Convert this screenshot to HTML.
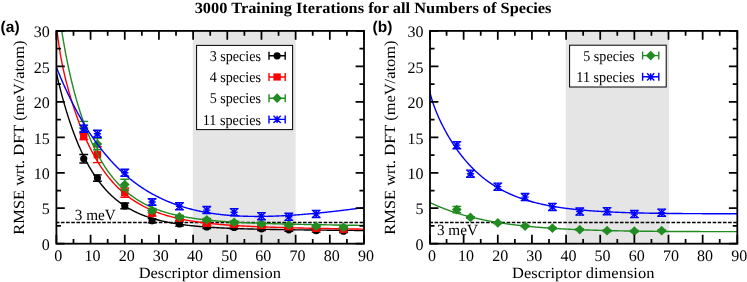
<!DOCTYPE html>
<html lang="en">
<head>
<meta charset="utf-8">
<title>3000 Training Iterations for all Numbers of Species</title>
<style>
html,body{margin:0;padding:0;background:#ffffff;}
body{width:747px;height:282px;overflow:hidden;}
svg{display:block;text-rendering:geometricPrecision;filter:opacity(1);}
</style>
</head>
<body>
<svg width="747" height="282" viewBox="0 0 747 282" role="img" aria-label="RMSE versus descriptor dimension">
<rect x="0" y="0" width="747" height="282" fill="#ffffff"/>
<rect x="192.81" y="30.90" width="102.83" height="212.80" fill="#e5e5e5"/>
<clipPath id="clip0"><rect x="56.40" y="30.90" width="307.60" height="212.80"/></clipPath>
<g clip-path="url(#clip0)">
<path d="M56.40,222.42 L364.00,222.42" stroke="#000" stroke-width="1.5" stroke-dasharray="3.6 1.55" stroke-dashoffset="0.6" fill="none"/>
<path d="M56.40,73.05 L57.25,76.73 L58.11,80.33 L58.96,83.84 L59.82,87.26 L60.67,90.61 L61.53,93.87 L62.38,97.06 L63.24,100.18 L64.09,103.21 L64.94,106.18 L65.80,109.08 L66.65,111.91 L67.51,114.67 L68.36,117.37 L69.22,120.00 L70.07,122.57 L70.93,125.08 L71.78,127.53 L72.63,129.93 L73.49,132.26 L74.34,134.55 L75.20,136.77 L76.05,138.95 L76.91,141.07 L77.76,143.15 L78.62,145.17 L79.47,147.15 L80.32,149.08 L81.18,150.96 L82.03,152.80 L82.89,154.60 L83.74,156.35 L84.60,158.07 L85.45,159.74 L86.31,161.37 L87.16,162.97 L88.01,164.52 L88.87,166.04 L89.72,167.53 L90.58,168.98 L91.43,170.39 L92.29,171.77 L93.14,173.12 L94.00,174.44 L94.85,175.73 L95.70,176.98 L96.56,178.21 L97.41,179.41 L98.27,180.58 L99.12,181.72 L99.98,182.83 L100.83,183.92 L101.69,184.98 L102.54,186.02 L103.39,187.04 L104.25,188.03 L105.10,188.99 L105.96,189.94 L106.81,190.86 L107.67,191.76 L108.52,192.64 L109.38,193.49 L110.23,194.33 L111.08,195.15 L111.94,195.95 L112.79,196.73 L113.65,197.49 L114.50,198.23 L115.36,198.96 L116.21,199.67 L117.07,200.36 L117.92,201.04 L118.77,201.70 L119.63,202.35 L120.48,202.98 L121.34,203.59 L122.19,204.19 L123.05,204.78 L123.90,205.35 L124.76,205.91 L125.61,206.46 L126.46,206.99 L127.32,207.51 L128.17,208.02 L129.03,208.52 L129.88,209.00 L130.74,209.48 L131.59,209.94 L132.45,210.39 L133.30,210.84 L134.15,211.27 L135.01,211.69 L135.86,212.10 L136.72,212.50 L137.57,212.90 L138.43,213.28 L139.28,213.65 L140.14,214.02 L140.99,214.38 L141.84,214.73 L142.70,215.07 L143.55,215.40 L144.41,215.72 L145.26,216.04 L146.12,216.35 L146.97,216.66 L147.83,216.95 L148.68,217.24 L149.53,217.52 L150.39,217.80 L151.24,218.07 L152.10,218.33 L152.95,218.59 L153.81,218.84 L154.66,219.09 L155.52,219.33 L156.37,219.56 L157.22,219.79 L158.08,220.01 L158.93,220.23 L159.79,220.45 L160.64,220.65 L161.50,220.86 L162.35,221.06 L163.21,221.25 L164.06,221.44 L164.91,221.63 L165.77,221.81 L166.62,221.99 L167.48,222.16 L168.33,222.33 L169.19,222.50 L170.04,222.66 L170.90,222.82 L171.75,222.97 L172.60,223.12 L173.46,223.27 L174.31,223.41 L175.17,223.55 L176.02,223.69 L176.88,223.83 L177.73,223.96 L178.59,224.09 L179.44,224.21 L180.29,224.34 L181.15,224.46 L182.00,224.57 L182.86,224.69 L183.71,224.80 L184.57,224.91 L185.42,225.02 L186.28,225.12 L187.13,225.23 L187.98,225.33 L188.84,225.42 L189.69,225.52 L190.55,225.61 L191.40,225.71 L192.26,225.80 L193.11,225.88 L193.97,225.97 L194.82,226.05 L195.67,226.14 L196.53,226.22 L197.38,226.29 L198.24,226.37 L199.09,226.45 L199.95,226.52 L200.80,226.59 L201.66,226.66 L202.51,226.73 L203.36,226.80 L204.22,226.87 L205.07,226.93 L205.93,226.99 L206.78,227.06 L207.64,227.12 L208.49,227.17 L209.35,227.23 L210.20,227.29 L211.05,227.35 L211.91,227.40 L212.76,227.45 L213.62,227.51 L214.47,227.56 L215.33,227.61 L216.18,227.66 L217.04,227.70 L217.89,227.75 L218.74,227.80 L219.60,227.84 L220.45,227.89 L221.31,227.93 L222.16,227.97 L223.02,228.01 L223.87,228.06 L224.73,228.10 L225.58,228.13 L226.43,228.17 L227.29,228.21 L228.14,228.25 L229.00,228.28 L229.85,228.32 L230.71,228.35 L231.56,228.39 L232.42,228.42 L233.27,228.45 L234.12,228.49 L234.98,228.52 L235.83,228.55 L236.69,228.58 L237.54,228.61 L238.40,228.64 L239.25,228.67 L240.11,228.70 L240.96,228.72 L241.81,228.75 L242.67,228.78 L243.52,228.80 L244.38,228.83 L245.23,228.86 L246.09,228.88 L246.94,228.90 L247.80,228.93 L248.65,228.95 L249.50,228.98 L250.36,229.00 L251.21,229.02 L252.07,229.04 L252.92,229.06 L253.78,229.09 L254.63,229.11 L255.49,229.13 L256.34,229.15 L257.19,229.17 L258.05,229.19 L258.90,229.21 L259.76,229.23 L260.61,229.24 L261.47,229.26 L262.32,229.28 L263.18,229.30 L264.03,229.32 L264.88,229.33 L265.74,229.35 L266.59,229.37 L267.45,229.38 L268.30,229.40 L269.16,229.42 L270.01,229.43 L270.87,229.45 L271.72,229.46 L272.57,229.48 L273.43,229.49 L274.28,229.51 L275.14,229.52 L275.99,229.54 L276.85,229.55 L277.70,229.57 L278.56,229.58 L279.41,229.59 L280.26,229.61 L281.12,229.62 L281.97,229.63 L282.83,229.65 L283.68,229.66 L284.54,229.67 L285.39,229.69 L286.25,229.70 L287.10,229.71 L287.95,229.72 L288.81,229.74 L289.66,229.75 L290.52,229.76 L291.37,229.77 L292.23,229.78 L293.08,229.79 L293.94,229.81 L294.79,229.82 L295.64,229.83 L296.50,229.84 L297.35,229.85 L298.21,229.86 L299.06,229.87 L299.92,229.88 L300.77,229.89 L301.63,229.90 L302.48,229.91 L303.33,229.92 L304.19,229.93 L305.04,229.94 L305.90,229.95 L306.75,229.96 L307.61,229.97 L308.46,229.98 L309.32,229.99 L310.17,230.00 L311.02,230.01 L311.88,230.02 L312.73,230.03 L313.59,230.04 L314.44,230.05 L315.30,230.06 L316.15,230.07 L317.01,230.08 L317.86,230.08 L318.71,230.09 L319.57,230.10 L320.42,230.11 L321.28,230.12 L322.13,230.13 L322.99,230.14 L323.84,230.15 L324.70,230.15 L325.55,230.16 L326.40,230.17 L327.26,230.18 L328.11,230.19 L328.97,230.20 L329.82,230.20 L330.68,230.21 L331.53,230.22 L332.39,230.23 L333.24,230.24 L334.09,230.25 L334.95,230.25 L335.80,230.26 L336.66,230.27 L337.51,230.28 L338.37,230.28 L339.22,230.29 L340.08,230.30 L340.93,230.31 L341.78,230.32 L342.64,230.32 L343.49,230.33 L344.35,230.34 L345.20,230.35 L346.06,230.35 L346.91,230.36 L347.77,230.37 L348.62,230.38 L349.47,230.38 L350.33,230.39 L351.18,230.40 L352.04,230.41 L352.89,230.41 L353.75,230.42 L354.60,230.43 L355.46,230.44 L356.31,230.44 L357.16,230.45 L358.02,230.46 L358.87,230.47 L359.73,230.47 L360.58,230.48 L361.44,230.49 L362.29,230.50 L363.15,230.50 L364.00,230.51" stroke="#000000" stroke-width="1.4" fill="none" stroke-linejoin="round"/>
<path d="M83.74,154.54 L83.74,163.05 M79.34,154.54 L88.14,154.54 M79.34,163.05 L88.14,163.05" stroke="#000000" stroke-width="1.40" fill="none"/>
<circle cx="83.74" cy="158.79" r="3.6" fill="#000000"/>
<path d="M97.41,174.89 L97.41,181.28 M93.01,174.89 L101.81,174.89 M93.01,181.28 L101.81,181.28" stroke="#000000" stroke-width="1.40" fill="none"/>
<circle cx="97.41" cy="178.09" r="3.6" fill="#000000"/>
<path d="M124.76,203.06 L124.76,208.73 M120.36,203.06 L129.16,203.06 M120.36,208.73 L129.16,208.73" stroke="#000000" stroke-width="1.40" fill="none"/>
<circle cx="124.76" cy="205.89" r="3.6" fill="#000000"/>
<path d="M152.10,218.66 L152.10,222.92 M147.70,218.66 L156.50,218.66 M147.70,222.92 L156.50,222.92" stroke="#000000" stroke-width="1.40" fill="none"/>
<circle cx="152.10" cy="220.79" r="3.6" fill="#000000"/>
<path d="M179.44,221.85 L179.44,226.11 M175.04,221.85 L183.84,221.85 M175.04,226.11 L183.84,226.11" stroke="#000000" stroke-width="1.40" fill="none"/>
<circle cx="179.44" cy="223.98" r="3.6" fill="#000000"/>
<path d="M206.78,225.12 L206.78,228.66 M202.38,225.12 L211.18,225.12 M202.38,228.66 L211.18,228.66" stroke="#000000" stroke-width="1.40" fill="none"/>
<circle cx="206.78" cy="226.89" r="3.6" fill="#000000"/>
<path d="M234.12,225.61 L234.12,229.16 M229.72,225.61 L238.52,225.61 M229.72,229.16 L238.52,229.16" stroke="#000000" stroke-width="1.40" fill="none"/>
<circle cx="234.12" cy="227.39" r="3.6" fill="#000000"/>
<path d="M261.47,227.03 L261.47,230.58 M257.07,227.03 L265.87,227.03 M257.07,230.58 L265.87,230.58" stroke="#000000" stroke-width="1.40" fill="none"/>
<circle cx="261.47" cy="228.80" r="3.6" fill="#000000"/>
<path d="M288.81,228.45 L288.81,231.29 M284.41,228.45 L293.21,228.45 M284.41,231.29 L293.21,231.29" stroke="#000000" stroke-width="1.40" fill="none"/>
<circle cx="288.81" cy="229.87" r="3.6" fill="#000000"/>
<path d="M316.15,229.30 L316.15,232.14 M311.75,229.30 L320.55,229.30 M311.75,232.14 L320.55,232.14" stroke="#000000" stroke-width="1.40" fill="none"/>
<circle cx="316.15" cy="230.72" r="3.6" fill="#000000"/>
<path d="M343.49,229.73 L343.49,232.56 M339.09,229.73 L347.89,229.73 M339.09,232.56 L347.89,232.56" stroke="#000000" stroke-width="1.40" fill="none"/>
<circle cx="343.49" cy="231.14" r="3.6" fill="#000000"/>
<path d="M56.40,24.56 L57.25,32.40 L58.11,39.29 L58.96,45.43 L59.82,50.96 L60.67,56.01 L61.53,60.66 L62.38,65.00 L63.24,69.06 L64.09,72.91 L64.94,76.56 L65.80,80.06 L66.65,83.41 L67.51,86.65 L68.36,89.78 L69.22,92.81 L70.07,95.75 L70.93,98.61 L71.78,101.39 L72.63,104.11 L73.49,106.75 L74.34,109.34 L75.20,111.86 L76.05,114.33 L76.91,116.74 L77.76,119.09 L78.62,121.39 L79.47,123.65 L80.32,125.85 L81.18,128.00 L82.03,130.11 L82.89,132.18 L83.74,134.19 L84.60,136.17 L85.45,138.10 L86.31,139.99 L87.16,141.84 L88.01,143.65 L88.87,145.42 L89.72,147.15 L90.58,148.85 L91.43,150.51 L92.29,152.14 L93.14,153.73 L94.00,155.28 L94.85,156.80 L95.70,158.29 L96.56,159.75 L97.41,161.18 L98.27,162.58 L99.12,163.94 L99.98,165.28 L100.83,166.59 L101.69,167.87 L102.54,169.13 L103.39,170.36 L104.25,171.56 L105.10,172.73 L105.96,173.88 L106.81,175.01 L107.67,176.11 L108.52,177.19 L109.38,178.25 L110.23,179.28 L111.08,180.29 L111.94,181.28 L112.79,182.25 L113.65,183.20 L114.50,184.13 L115.36,185.03 L116.21,185.92 L117.07,186.79 L117.92,187.65 L118.77,188.48 L119.63,189.30 L120.48,190.09 L121.34,190.88 L122.19,191.64 L123.05,192.39 L123.90,193.12 L124.76,193.84 L125.61,194.54 L126.46,195.23 L127.32,195.90 L128.17,196.56 L129.03,197.21 L129.88,197.84 L130.74,198.46 L131.59,199.06 L132.45,199.65 L133.30,200.23 L134.15,200.80 L135.01,201.36 L135.86,201.90 L136.72,202.43 L137.57,202.95 L138.43,203.46 L139.28,203.96 L140.14,204.45 L140.99,204.93 L141.84,205.40 L142.70,205.86 L143.55,206.31 L144.41,206.75 L145.26,207.18 L146.12,207.60 L146.97,208.01 L147.83,208.42 L148.68,208.81 L149.53,209.20 L150.39,209.58 L151.24,209.95 L152.10,210.32 L152.95,210.67 L153.81,211.02 L154.66,211.36 L155.52,211.70 L156.37,212.02 L157.22,212.35 L158.08,212.66 L158.93,212.97 L159.79,213.27 L160.64,213.56 L161.50,213.85 L162.35,214.14 L163.21,214.41 L164.06,214.68 L164.91,214.95 L165.77,215.21 L166.62,215.46 L167.48,215.71 L168.33,215.96 L169.19,216.20 L170.04,216.43 L170.90,216.66 L171.75,216.89 L172.60,217.11 L173.46,217.33 L174.31,217.54 L175.17,217.74 L176.02,217.95 L176.88,218.15 L177.73,218.34 L178.59,218.53 L179.44,218.72 L180.29,218.90 L181.15,219.08 L182.00,219.26 L182.86,219.43 L183.71,219.60 L184.57,219.77 L185.42,219.93 L186.28,220.09 L187.13,220.24 L187.98,220.40 L188.84,220.55 L189.69,220.69 L190.55,220.84 L191.40,220.98 L192.26,221.12 L193.11,221.25 L193.97,221.39 L194.82,221.52 L195.67,221.65 L196.53,221.77 L197.38,221.89 L198.24,222.01 L199.09,222.13 L199.95,222.25 L200.80,222.36 L201.66,222.47 L202.51,222.58 L203.36,222.69 L204.22,222.79 L205.07,222.90 L205.93,223.00 L206.78,223.10 L207.64,223.20 L208.49,223.29 L209.35,223.38 L210.20,223.48 L211.05,223.57 L211.91,223.66 L212.76,223.74 L213.62,223.83 L214.47,223.91 L215.33,223.99 L216.18,224.07 L217.04,224.15 L217.89,224.23 L218.74,224.31 L219.60,224.38 L220.45,224.46 L221.31,224.53 L222.16,224.60 L223.02,224.67 L223.87,224.74 L224.73,224.80 L225.58,224.87 L226.43,224.93 L227.29,225.00 L228.14,225.06 L229.00,225.12 L229.85,225.18 L230.71,225.24 L231.56,225.30 L232.42,225.36 L233.27,225.41 L234.12,225.47 L234.98,225.52 L235.83,225.58 L236.69,225.63 L237.54,225.68 L238.40,225.73 L239.25,225.78 L240.11,225.83 L240.96,225.88 L241.81,225.93 L242.67,225.97 L243.52,226.02 L244.38,226.06 L245.23,226.11 L246.09,226.15 L246.94,226.20 L247.80,226.24 L248.65,226.28 L249.50,226.32 L250.36,226.36 L251.21,226.40 L252.07,226.44 L252.92,226.48 L253.78,226.52 L254.63,226.56 L255.49,226.59 L256.34,226.63 L257.19,226.67 L258.05,226.70 L258.90,226.74 L259.76,226.77 L260.61,226.80 L261.47,226.84 L262.32,226.87 L263.18,226.90 L264.03,226.93 L264.88,226.97 L265.74,227.00 L266.59,227.03 L267.45,227.06 L268.30,227.09 L269.16,227.12 L270.01,227.15 L270.87,227.18 L271.72,227.20 L272.57,227.23 L273.43,227.26 L274.28,227.29 L275.14,227.31 L275.99,227.34 L276.85,227.37 L277.70,227.39 L278.56,227.42 L279.41,227.45 L280.26,227.47 L281.12,227.50 L281.97,227.52 L282.83,227.54 L283.68,227.57 L284.54,227.59 L285.39,227.62 L286.25,227.64 L287.10,227.66 L287.95,227.68 L288.81,227.71 L289.66,227.73 L290.52,227.75 L291.37,227.77 L292.23,227.79 L293.08,227.82 L293.94,227.84 L294.79,227.86 L295.64,227.88 L296.50,227.90 L297.35,227.92 L298.21,227.94 L299.06,227.96 L299.92,227.98 L300.77,228.00 L301.63,228.02 L302.48,228.04 L303.33,228.06 L304.19,228.08 L305.04,228.10 L305.90,228.11 L306.75,228.13 L307.61,228.15 L308.46,228.17 L309.32,228.19 L310.17,228.21 L311.02,228.22 L311.88,228.24 L312.73,228.26 L313.59,228.28 L314.44,228.29 L315.30,228.31 L316.15,228.33 L317.01,228.34 L317.86,228.36 L318.71,228.38 L319.57,228.39 L320.42,228.41 L321.28,228.43 L322.13,228.44 L322.99,228.46 L323.84,228.48 L324.70,228.49 L325.55,228.51 L326.40,228.52 L327.26,228.54 L328.11,228.55 L328.97,228.57 L329.82,228.59 L330.68,228.60 L331.53,228.62 L332.39,228.63 L333.24,228.65 L334.09,228.66 L334.95,228.68 L335.80,228.69 L336.66,228.71 L337.51,228.72 L338.37,228.74 L339.22,228.75 L340.08,228.77 L340.93,228.78 L341.78,228.79 L342.64,228.81 L343.49,228.82 L344.35,228.84 L345.20,228.85 L346.06,228.87 L346.91,228.88 L347.77,228.89 L348.62,228.91 L349.47,228.92 L350.33,228.94 L351.18,228.95 L352.04,228.96 L352.89,228.98 L353.75,228.99 L354.60,229.00 L355.46,229.02 L356.31,229.03 L357.16,229.05 L358.02,229.06 L358.87,229.07 L359.73,229.09 L360.58,229.10 L361.44,229.11 L362.29,229.13 L363.15,229.14 L364.00,229.15" stroke="#ff0000" stroke-width="1.4" fill="none" stroke-linejoin="round"/>
<path d="M83.74,133.75 L83.74,139.43 M79.34,133.75 L88.14,133.75 M79.34,139.43 L88.14,139.43" stroke="#ff0000" stroke-width="1.40" fill="none"/>
<rect x="80.04" y="132.99" width="7.4" height="7.2" fill="#ff0000"/>
<path d="M97.41,146.73 L97.41,162.62 M93.01,146.73 L101.81,146.73 M93.01,162.62 L101.81,162.62" stroke="#ff0000" stroke-width="1.40" fill="none"/>
<rect x="93.71" y="151.08" width="7.4" height="7.2" fill="#ff0000"/>
<path d="M124.76,187.95 L124.76,197.31 M120.36,187.95 L129.16,187.95 M120.36,197.31 L129.16,197.31" stroke="#ff0000" stroke-width="1.40" fill="none"/>
<rect x="121.06" y="189.03" width="7.4" height="7.2" fill="#ff0000"/>
<path d="M152.10,210.36 L152.10,216.04 M147.70,210.36 L156.50,210.36 M147.70,216.04 L156.50,216.04" stroke="#ff0000" stroke-width="1.40" fill="none"/>
<rect x="148.40" y="209.60" width="7.4" height="7.2" fill="#ff0000"/>
<path d="M179.44,216.25 L179.44,220.50 M175.04,216.25 L183.84,216.25 M175.04,220.50 L183.84,220.50" stroke="#ff0000" stroke-width="1.40" fill="none"/>
<rect x="175.74" y="214.78" width="7.4" height="7.2" fill="#ff0000"/>
<path d="M206.78,221.29 L206.78,225.54 M202.38,221.29 L211.18,221.29 M202.38,225.54 L211.18,225.54" stroke="#ff0000" stroke-width="1.40" fill="none"/>
<rect x="203.08" y="219.81" width="7.4" height="7.2" fill="#ff0000"/>
<path d="M234.12,222.28 L234.12,226.53 M229.72,222.28 L238.52,222.28 M229.72,226.53 L238.52,226.53" stroke="#ff0000" stroke-width="1.40" fill="none"/>
<rect x="230.42" y="220.81" width="7.4" height="7.2" fill="#ff0000"/>
<path d="M261.47,223.48 L261.47,227.74 M257.07,223.48 L265.87,223.48 M257.07,227.74 L265.87,227.74" stroke="#ff0000" stroke-width="1.40" fill="none"/>
<rect x="257.77" y="222.01" width="7.4" height="7.2" fill="#ff0000"/>
<path d="M288.81,224.69 L288.81,228.95 M284.41,224.69 L293.21,224.69 M284.41,228.95 L293.21,228.95" stroke="#ff0000" stroke-width="1.40" fill="none"/>
<rect x="285.11" y="223.22" width="7.4" height="7.2" fill="#ff0000"/>
<path d="M316.15,226.18 L316.15,230.44 M311.75,226.18 L320.55,226.18 M311.75,230.44 L320.55,230.44" stroke="#ff0000" stroke-width="1.40" fill="none"/>
<rect x="312.45" y="224.71" width="7.4" height="7.2" fill="#ff0000"/>
<path d="M343.49,227.17 L343.49,231.43 M339.09,227.17 L347.89,227.17 M339.09,231.43 L347.89,231.43" stroke="#ff0000" stroke-width="1.40" fill="none"/>
<rect x="339.79" y="225.70" width="7.4" height="7.2" fill="#ff0000"/>
<path d="M56.40,-8.86 L57.25,-1.61 L58.11,5.26 L58.96,11.77 L59.82,17.97 L60.67,23.88 L61.53,29.51 L62.38,34.89 L63.24,40.05 L64.09,44.99 L64.94,49.74 L65.80,54.30 L66.65,58.69 L67.51,62.92 L68.36,67.01 L69.22,70.95 L70.07,74.77 L70.93,78.46 L71.78,82.03 L72.63,85.49 L73.49,88.85 L74.34,92.11 L75.20,95.27 L76.05,98.34 L76.91,101.33 L77.76,104.23 L78.62,107.06 L79.47,109.81 L80.32,112.48 L81.18,115.09 L82.03,117.63 L82.89,120.10 L83.74,122.51 L84.60,124.86 L85.45,127.15 L86.31,129.39 L87.16,131.57 L88.01,133.69 L88.87,135.76 L89.72,137.79 L90.58,139.76 L91.43,141.69 L92.29,143.57 L93.14,145.41 L94.00,147.20 L94.85,148.95 L95.70,150.66 L96.56,152.33 L97.41,153.96 L98.27,155.55 L99.12,157.10 L99.98,158.62 L100.83,160.10 L101.69,161.55 L102.54,162.96 L103.39,164.34 L104.25,165.69 L105.10,167.01 L105.96,168.29 L106.81,169.55 L107.67,170.78 L108.52,171.98 L109.38,173.15 L110.23,174.30 L111.08,175.42 L111.94,176.51 L112.79,177.58 L113.65,178.62 L114.50,179.64 L115.36,180.64 L116.21,181.61 L117.07,182.56 L117.92,183.49 L118.77,184.40 L119.63,185.28 L120.48,186.15 L121.34,187.00 L122.19,187.82 L123.05,188.63 L123.90,189.42 L124.76,190.19 L125.61,190.95 L126.46,191.69 L127.32,192.41 L128.17,193.11 L129.03,193.80 L129.88,194.47 L130.74,195.13 L131.59,195.77 L132.45,196.40 L133.30,197.01 L134.15,197.61 L135.01,198.19 L135.86,198.77 L136.72,199.32 L137.57,199.87 L138.43,200.40 L139.28,200.93 L140.14,201.44 L140.99,201.94 L141.84,202.42 L142.70,202.90 L143.55,203.36 L144.41,203.82 L145.26,204.26 L146.12,204.70 L146.97,205.12 L147.83,205.54 L148.68,205.95 L149.53,206.34 L150.39,206.73 L151.24,207.11 L152.10,207.48 L152.95,207.84 L153.81,208.20 L154.66,208.54 L155.52,208.88 L156.37,209.21 L157.22,209.54 L158.08,209.85 L158.93,210.16 L159.79,210.46 L160.64,210.76 L161.50,211.05 L162.35,211.33 L163.21,211.61 L164.06,211.88 L164.91,212.14 L165.77,212.40 L166.62,212.65 L167.48,212.90 L168.33,213.14 L169.19,213.38 L170.04,213.61 L170.90,213.84 L171.75,214.06 L172.60,214.27 L173.46,214.48 L174.31,214.69 L175.17,214.89 L176.02,215.09 L176.88,215.28 L177.73,215.47 L178.59,215.66 L179.44,215.84 L180.29,216.02 L181.15,216.19 L182.00,216.36 L182.86,216.53 L183.71,216.69 L184.57,216.85 L185.42,217.00 L186.28,217.16 L187.13,217.30 L187.98,217.45 L188.84,217.59 L189.69,217.73 L190.55,217.87 L191.40,218.00 L192.26,218.13 L193.11,218.26 L193.97,218.39 L194.82,218.51 L195.67,218.63 L196.53,218.75 L197.38,218.86 L198.24,218.98 L199.09,219.09 L199.95,219.19 L200.80,219.30 L201.66,219.40 L202.51,219.51 L203.36,219.60 L204.22,219.70 L205.07,219.80 L205.93,219.89 L206.78,219.98 L207.64,220.07 L208.49,220.16 L209.35,220.25 L210.20,220.33 L211.05,220.41 L211.91,220.50 L212.76,220.57 L213.62,220.65 L214.47,220.73 L215.33,220.80 L216.18,220.88 L217.04,220.95 L217.89,221.02 L218.74,221.09 L219.60,221.16 L220.45,221.22 L221.31,221.29 L222.16,221.35 L223.02,221.42 L223.87,221.48 L224.73,221.54 L225.58,221.60 L226.43,221.66 L227.29,221.71 L228.14,221.77 L229.00,221.82 L229.85,221.88 L230.71,221.93 L231.56,221.98 L232.42,222.03 L233.27,222.08 L234.12,222.13 L234.98,222.18 L235.83,222.23 L236.69,222.28 L237.54,222.32 L238.40,222.37 L239.25,222.41 L240.11,222.45 L240.96,222.50 L241.81,222.54 L242.67,222.58 L243.52,222.62 L244.38,222.66 L245.23,222.70 L246.09,222.74 L246.94,222.78 L247.80,222.82 L248.65,222.85 L249.50,222.89 L250.36,222.92 L251.21,222.96 L252.07,222.99 L252.92,223.03 L253.78,223.06 L254.63,223.09 L255.49,223.13 L256.34,223.16 L257.19,223.19 L258.05,223.22 L258.90,223.25 L259.76,223.28 L260.61,223.31 L261.47,223.34 L262.32,223.37 L263.18,223.40 L264.03,223.43 L264.88,223.46 L265.74,223.48 L266.59,223.51 L267.45,223.54 L268.30,223.56 L269.16,223.59 L270.01,223.61 L270.87,223.64 L271.72,223.66 L272.57,223.69 L273.43,223.71 L274.28,223.74 L275.14,223.76 L275.99,223.78 L276.85,223.81 L277.70,223.83 L278.56,223.85 L279.41,223.88 L280.26,223.90 L281.12,223.92 L281.97,223.94 L282.83,223.96 L283.68,223.98 L284.54,224.00 L285.39,224.03 L286.25,224.05 L287.10,224.07 L287.95,224.09 L288.81,224.11 L289.66,224.13 L290.52,224.15 L291.37,224.16 L292.23,224.18 L293.08,224.20 L293.94,224.22 L294.79,224.24 L295.64,224.26 L296.50,224.28 L297.35,224.30 L298.21,224.31 L299.06,224.33 L299.92,224.35 L300.77,224.37 L301.63,224.38 L302.48,224.40 L303.33,224.42 L304.19,224.43 L305.04,224.45 L305.90,224.47 L306.75,224.48 L307.61,224.50 L308.46,224.52 L309.32,224.53 L310.17,224.55 L311.02,224.57 L311.88,224.58 L312.73,224.60 L313.59,224.61 L314.44,224.63 L315.30,224.64 L316.15,224.66 L317.01,224.68 L317.86,224.69 L318.71,224.71 L319.57,224.72 L320.42,224.74 L321.28,224.75 L322.13,224.77 L322.99,224.78 L323.84,224.80 L324.70,224.81 L325.55,224.82 L326.40,224.84 L327.26,224.85 L328.11,224.87 L328.97,224.88 L329.82,224.90 L330.68,224.91 L331.53,224.92 L332.39,224.94 L333.24,224.95 L334.09,224.97 L334.95,224.98 L335.80,224.99 L336.66,225.01 L337.51,225.02 L338.37,225.03 L339.22,225.05 L340.08,225.06 L340.93,225.07 L341.78,225.09 L342.64,225.10 L343.49,225.11 L344.35,225.13 L345.20,225.14 L346.06,225.15 L346.91,225.17 L347.77,225.18 L348.62,225.19 L349.47,225.21 L350.33,225.22 L351.18,225.23 L352.04,225.25 L352.89,225.26 L353.75,225.27 L354.60,225.28 L355.46,225.30 L356.31,225.31 L357.16,225.32 L358.02,225.34 L358.87,225.35 L359.73,225.36 L360.58,225.37 L361.44,225.39 L362.29,225.40 L363.15,225.41 L364.00,225.42" stroke="#228b22" stroke-width="1.4" fill="none" stroke-linejoin="round"/>
<path d="M83.74,121.34 L83.74,131.63 M79.34,121.34 L88.14,121.34 M79.34,131.63 L88.14,131.63" stroke="#228b22" stroke-width="1.40" fill="none"/>
<path d="M83.74,123.18 L88.64,128.08 L83.74,132.98 L78.84,128.08Z" fill="#228b22"/>
<path d="M97.41,138.36 L97.41,149.71 M93.01,138.36 L101.81,138.36 M93.01,149.71 L101.81,149.71" stroke="#228b22" stroke-width="1.40" fill="none"/>
<path d="M97.41,139.14 L102.31,144.04 L97.41,148.94 L92.51,144.04Z" fill="#228b22"/>
<path d="M124.76,179.29 L124.76,189.93 M120.36,179.29 L129.16,179.29 M120.36,189.93 L129.16,189.93" stroke="#228b22" stroke-width="1.40" fill="none"/>
<path d="M124.76,179.71 L129.66,184.61 L124.76,189.51 L119.86,184.61Z" fill="#228b22"/>
<path d="M152.10,208.38 L152.10,212.63 M147.70,208.38 L156.50,208.38 M147.70,212.63 L156.50,212.63" stroke="#228b22" stroke-width="1.40" fill="none"/>
<path d="M152.10,205.60 L157.00,210.50 L152.10,215.40 L147.20,210.50Z" fill="#228b22"/>
<path d="M179.44,215.54 L179.44,218.38 M175.04,215.54 L183.84,215.54 M175.04,218.38 L183.84,218.38" stroke="#228b22" stroke-width="1.40" fill="none"/>
<path d="M179.44,212.06 L184.34,216.96 L179.44,221.86 L174.54,216.96Z" fill="#228b22"/>
<path d="M206.78,218.45 L206.78,221.29 M202.38,218.45 L211.18,218.45 M202.38,221.29 L211.18,221.29" stroke="#228b22" stroke-width="1.40" fill="none"/>
<path d="M206.78,214.97 L211.68,219.87 L206.78,224.77 L201.88,219.87Z" fill="#228b22"/>
<path d="M234.12,220.86 L234.12,223.70 M229.72,220.86 L238.52,220.86 M229.72,223.70 L238.52,223.70" stroke="#228b22" stroke-width="1.40" fill="none"/>
<path d="M234.12,217.38 L239.02,222.28 L234.12,227.18 L229.22,222.28Z" fill="#228b22"/>
<path d="M261.47,222.42 L261.47,225.26 M257.07,222.42 L265.87,222.42 M257.07,225.26 L265.87,225.26" stroke="#228b22" stroke-width="1.40" fill="none"/>
<path d="M261.47,218.94 L266.37,223.84 L261.47,228.74 L256.57,223.84Z" fill="#228b22"/>
<path d="M288.81,223.48 L288.81,226.32 M284.41,223.48 L293.21,223.48 M284.41,226.32 L293.21,226.32" stroke="#228b22" stroke-width="1.40" fill="none"/>
<path d="M288.81,220.00 L293.71,224.90 L288.81,229.80 L283.91,224.90Z" fill="#228b22"/>
<path d="M316.15,224.76 L316.15,227.60 M311.75,224.76 L320.55,224.76 M311.75,227.60 L320.55,227.60" stroke="#228b22" stroke-width="1.40" fill="none"/>
<path d="M316.15,221.28 L321.05,226.18 L316.15,231.08 L311.25,226.18Z" fill="#228b22"/>
<path d="M343.49,225.90 L343.49,228.73 M339.09,225.90 L347.89,225.90 M339.09,228.73 L347.89,228.73" stroke="#228b22" stroke-width="1.40" fill="none"/>
<path d="M343.49,222.41 L348.39,227.31 L343.49,232.21 L338.59,227.31Z" fill="#228b22"/>
<path d="M56.40,67.33 L57.25,69.45 L58.11,71.54 L58.96,73.60 L59.82,75.64 L60.67,77.65 L61.53,79.64 L62.38,81.61 L63.24,83.55 L64.09,85.47 L64.94,87.36 L65.80,89.23 L66.65,91.07 L67.51,92.90 L68.36,94.70 L69.22,96.48 L70.07,98.23 L70.93,99.97 L71.78,101.68 L72.63,103.37 L73.49,105.04 L74.34,106.69 L75.20,108.32 L76.05,109.93 L76.91,111.52 L77.76,113.08 L78.62,114.63 L79.47,116.16 L80.32,117.67 L81.18,119.16 L82.03,120.63 L82.89,122.09 L83.74,123.52 L84.60,124.94 L85.45,126.34 L86.31,127.72 L87.16,129.08 L88.01,130.43 L88.87,131.76 L89.72,133.07 L90.58,134.36 L91.43,135.64 L92.29,136.90 L93.14,138.15 L94.00,139.38 L94.85,140.59 L95.70,141.79 L96.56,142.98 L97.41,144.14 L98.27,145.30 L99.12,146.43 L99.98,147.56 L100.83,148.66 L101.69,149.76 L102.54,150.84 L103.39,151.90 L104.25,152.96 L105.10,153.99 L105.96,155.02 L106.81,156.03 L107.67,157.02 L108.52,158.01 L109.38,158.98 L110.23,159.94 L111.08,160.88 L111.94,161.82 L112.79,162.74 L113.65,163.65 L114.50,164.54 L115.36,165.43 L116.21,166.30 L117.07,167.16 L117.92,168.01 L118.77,168.84 L119.63,169.67 L120.48,170.49 L121.34,171.29 L122.19,172.08 L123.05,172.86 L123.90,173.63 L124.76,174.40 L125.61,175.15 L126.46,175.89 L127.32,176.62 L128.17,177.34 L129.03,178.04 L129.88,178.74 L130.74,179.43 L131.59,180.12 L132.45,180.79 L133.30,181.45 L134.15,182.10 L135.01,182.74 L135.86,183.38 L136.72,184.00 L137.57,184.62 L138.43,185.22 L139.28,185.82 L140.14,186.41 L140.99,186.99 L141.84,187.57 L142.70,188.13 L143.55,188.69 L144.41,189.24 L145.26,189.78 L146.12,190.31 L146.97,190.83 L147.83,191.35 L148.68,191.86 L149.53,192.36 L150.39,192.85 L151.24,193.34 L152.10,193.82 L152.95,194.29 L153.81,194.76 L154.66,195.22 L155.52,195.67 L156.37,196.11 L157.22,196.55 L158.08,196.98 L158.93,197.40 L159.79,197.82 L160.64,198.23 L161.50,198.63 L162.35,199.03 L163.21,199.42 L164.06,199.81 L164.91,200.19 L165.77,200.56 L166.62,200.93 L167.48,201.29 L168.33,201.65 L169.19,202.00 L170.04,202.34 L170.90,202.68 L171.75,203.01 L172.60,203.34 L173.46,203.66 L174.31,203.97 L175.17,204.28 L176.02,204.59 L176.88,204.89 L177.73,205.19 L178.59,205.48 L179.44,205.76 L180.29,206.04 L181.15,206.31 L182.00,206.59 L182.86,206.85 L183.71,207.11 L184.57,207.37 L185.42,207.62 L186.28,207.86 L187.13,208.11 L187.98,208.34 L188.84,208.58 L189.69,208.80 L190.55,209.03 L191.40,209.25 L192.26,209.46 L193.11,209.68 L193.97,209.88 L194.82,210.09 L195.67,210.28 L196.53,210.48 L197.38,210.67 L198.24,210.86 L199.09,211.04 L199.95,211.22 L200.80,211.40 L201.66,211.57 L202.51,211.74 L203.36,211.90 L204.22,212.06 L205.07,212.22 L205.93,212.37 L206.78,212.52 L207.64,212.67 L208.49,212.81 L209.35,212.95 L210.20,213.09 L211.05,213.22 L211.91,213.35 L212.76,213.48 L213.62,213.61 L214.47,213.73 L215.33,213.84 L216.18,213.96 L217.04,214.07 L217.89,214.18 L218.74,214.28 L219.60,214.39 L220.45,214.49 L221.31,214.58 L222.16,214.68 L223.02,214.77 L223.87,214.86 L224.73,214.94 L225.58,215.02 L226.43,215.10 L227.29,215.18 L228.14,215.26 L229.00,215.33 L229.85,215.40 L230.71,215.47 L231.56,215.53 L232.42,215.59 L233.27,215.65 L234.12,215.71 L234.98,215.76 L235.83,215.82 L236.69,215.87 L237.54,215.91 L238.40,215.96 L239.25,216.00 L240.11,216.05 L240.96,216.08 L241.81,216.12 L242.67,216.16 L243.52,216.19 L244.38,216.22 L245.23,216.25 L246.09,216.27 L246.94,216.30 L247.80,216.32 L248.65,216.34 L249.50,216.36 L250.36,216.37 L251.21,216.39 L252.07,216.40 L252.92,216.41 L253.78,216.42 L254.63,216.43 L255.49,216.43 L256.34,216.44 L257.19,216.44 L258.05,216.44 L258.90,216.44 L259.76,216.43 L260.61,216.43 L261.47,216.42 L262.32,216.41 L263.18,216.40 L264.03,216.39 L264.88,216.38 L265.74,216.36 L266.59,216.34 L267.45,216.33 L268.30,216.31 L269.16,216.29 L270.01,216.26 L270.87,216.24 L271.72,216.21 L272.57,216.19 L273.43,216.16 L274.28,216.13 L275.14,216.10 L275.99,216.06 L276.85,216.03 L277.70,215.99 L278.56,215.96 L279.41,215.92 L280.26,215.88 L281.12,215.84 L281.97,215.80 L282.83,215.76 L283.68,215.71 L284.54,215.67 L285.39,215.62 L286.25,215.57 L287.10,215.52 L287.95,215.47 L288.81,215.42 L289.66,215.37 L290.52,215.31 L291.37,215.26 L292.23,215.20 L293.08,215.15 L293.94,215.09 L294.79,215.03 L295.64,214.97 L296.50,214.91 L297.35,214.85 L298.21,214.78 L299.06,214.72 L299.92,214.65 L300.77,214.59 L301.63,214.52 L302.48,214.45 L303.33,214.38 L304.19,214.31 L305.04,214.24 L305.90,214.17 L306.75,214.10 L307.61,214.02 L308.46,213.95 L309.32,213.87 L310.17,213.80 L311.02,213.72 L311.88,213.64 L312.73,213.56 L313.59,213.48 L314.44,213.40 L315.30,213.32 L316.15,213.24 L317.01,213.16 L317.86,213.07 L318.71,212.99 L319.57,212.90 L320.42,212.82 L321.28,212.73 L322.13,212.64 L322.99,212.55 L323.84,212.46 L324.70,212.37 L325.55,212.28 L326.40,212.19 L327.26,212.10 L328.11,212.01 L328.97,211.92 L329.82,211.82 L330.68,211.73 L331.53,211.63 L332.39,211.54 L333.24,211.44 L334.09,211.34 L334.95,211.25 L335.80,211.15 L336.66,211.05 L337.51,210.95 L338.37,210.85 L339.22,210.75 L340.08,210.65 L340.93,210.55 L341.78,210.44 L342.64,210.34 L343.49,210.24 L344.35,210.13 L345.20,210.03 L346.06,209.92 L346.91,209.82 L347.77,209.71 L348.62,209.61 L349.47,209.50 L350.33,209.39 L351.18,209.28 L352.04,209.17 L352.89,209.07 L353.75,208.96 L354.60,208.85 L355.46,208.74 L356.31,208.62 L357.16,208.51 L358.02,208.40 L358.87,208.29 L359.73,208.18 L360.58,208.06 L361.44,207.95 L362.29,207.84 L363.15,207.72 L364.00,207.61" stroke="#0000ff" stroke-width="1.4" fill="none" stroke-linejoin="round"/>
<path d="M83.74,125.10 L83.74,132.19 M79.34,125.10 L88.14,125.10 M79.34,132.19 L88.14,132.19" stroke="#0000ff" stroke-width="1.40" fill="none"/>
<path d="M80.14,125.05 L87.34,132.25 M80.14,132.25 L87.34,125.05 M80.14,128.65 L87.34,128.65 M83.74,125.05 L83.74,132.25" stroke="#0000ff" stroke-width="1.40" fill="none"/>
<path d="M97.41,130.21 L97.41,137.30 M93.01,130.21 L101.81,130.21 M93.01,137.30 L101.81,137.30" stroke="#0000ff" stroke-width="1.40" fill="none"/>
<path d="M93.81,130.15 L101.01,137.35 M93.81,137.35 L101.01,130.15 M93.81,133.75 L101.01,133.75 M97.41,130.15 L97.41,137.35" stroke="#0000ff" stroke-width="1.40" fill="none"/>
<path d="M124.76,169.22 L124.76,176.31 M120.36,169.22 L129.16,169.22 M120.36,176.31 L129.16,176.31" stroke="#0000ff" stroke-width="1.40" fill="none"/>
<path d="M121.16,169.17 L128.36,176.37 M121.16,176.37 L128.36,169.17 M121.16,172.77 L128.36,172.77 M124.76,169.17 L124.76,176.37" stroke="#0000ff" stroke-width="1.40" fill="none"/>
<path d="M152.10,198.73 L152.10,205.25 M147.70,198.73 L156.50,198.73 M147.70,205.25 L156.50,205.25" stroke="#0000ff" stroke-width="1.40" fill="none"/>
<path d="M148.50,198.39 L155.70,205.59 M148.50,205.59 L155.70,198.39 M148.50,201.99 L155.70,201.99 M152.10,198.39 L152.10,205.59" stroke="#0000ff" stroke-width="1.40" fill="none"/>
<path d="M179.44,202.70 L179.44,209.79 M175.04,202.70 L183.84,202.70 M175.04,209.79 L183.84,209.79" stroke="#0000ff" stroke-width="1.40" fill="none"/>
<path d="M175.84,202.65 L183.04,209.85 M175.84,209.85 L183.04,202.65 M175.84,206.25 L183.04,206.25 M179.44,202.65 L179.44,209.85" stroke="#0000ff" stroke-width="1.40" fill="none"/>
<path d="M206.78,206.53 L206.78,213.62 M202.38,206.53 L211.18,206.53 M202.38,213.62 L211.18,213.62" stroke="#0000ff" stroke-width="1.40" fill="none"/>
<path d="M203.18,206.48 L210.38,213.68 M203.18,213.68 L210.38,206.48 M203.18,210.08 L210.38,210.08 M206.78,206.48 L206.78,213.68" stroke="#0000ff" stroke-width="1.40" fill="none"/>
<path d="M234.12,208.66 L234.12,215.75 M229.72,208.66 L238.52,208.66 M229.72,215.75 L238.52,215.75" stroke="#0000ff" stroke-width="1.40" fill="none"/>
<path d="M230.52,208.61 L237.72,215.81 M230.52,215.81 L237.72,208.61 M230.52,212.21 L237.72,212.21 M234.12,208.61 L234.12,215.81" stroke="#0000ff" stroke-width="1.40" fill="none"/>
<path d="M261.47,212.63 L261.47,219.72 M257.07,212.63 L265.87,212.63 M257.07,219.72 L265.87,219.72" stroke="#0000ff" stroke-width="1.40" fill="none"/>
<path d="M257.87,212.58 L265.07,219.78 M257.87,219.78 L265.07,212.58 M257.87,216.18 L265.07,216.18 M261.47,212.58 L261.47,219.78" stroke="#0000ff" stroke-width="1.40" fill="none"/>
<path d="M288.81,213.27 L288.81,220.36 M284.41,213.27 L293.21,213.27 M284.41,220.36 L293.21,220.36" stroke="#0000ff" stroke-width="1.40" fill="none"/>
<path d="M285.21,213.22 L292.41,220.42 M285.21,220.42 L292.41,213.22 M285.21,216.82 L292.41,216.82 M288.81,213.22 L288.81,220.42" stroke="#0000ff" stroke-width="1.40" fill="none"/>
<path d="M316.15,210.36 L316.15,217.45 M311.75,210.36 L320.55,210.36 M311.75,217.45 L320.55,217.45" stroke="#0000ff" stroke-width="1.40" fill="none"/>
<path d="M312.55,210.31 L319.75,217.51 M312.55,217.51 L319.75,210.31 M312.55,213.91 L319.75,213.91 M316.15,210.31 L316.15,217.51" stroke="#0000ff" stroke-width="1.40" fill="none"/>
</g>
<path d="M56.40,243.70 L56.40,234.80 M56.40,30.90 L56.40,39.80 M73.49,243.70 L73.49,238.95 M73.49,30.90 L73.49,35.65 M90.58,243.70 L90.58,234.80 M90.58,30.90 L90.58,39.80 M107.67,243.70 L107.67,238.95 M107.67,30.90 L107.67,35.65 M124.76,243.70 L124.76,234.80 M124.76,30.90 L124.76,39.80 M141.84,243.70 L141.84,238.95 M141.84,30.90 L141.84,35.65 M158.93,243.70 L158.93,234.80 M158.93,30.90 L158.93,39.80 M176.02,243.70 L176.02,238.95 M176.02,30.90 L176.02,35.65 M193.11,243.70 L193.11,234.80 M193.11,30.90 L193.11,39.80 M210.20,243.70 L210.20,238.95 M210.20,30.90 L210.20,35.65 M227.29,243.70 L227.29,234.80 M227.29,30.90 L227.29,39.80 M244.38,243.70 L244.38,238.95 M244.38,30.90 L244.38,35.65 M261.47,243.70 L261.47,234.80 M261.47,30.90 L261.47,39.80 M278.56,243.70 L278.56,238.95 M278.56,30.90 L278.56,35.65 M295.64,243.70 L295.64,234.80 M295.64,30.90 L295.64,39.80 M312.73,243.70 L312.73,238.95 M312.73,30.90 L312.73,35.65 M329.82,243.70 L329.82,234.80 M329.82,30.90 L329.82,39.80 M346.91,243.70 L346.91,238.95 M346.91,30.90 L346.91,35.65 M364.00,243.70 L364.00,234.80 M364.00,30.90 L364.00,39.80 M56.40,243.70 L64.80,243.70 M364.00,243.70 L355.60,243.70 M56.40,225.97 L60.95,225.97 M364.00,225.97 L359.45,225.97 M56.40,208.23 L64.80,208.23 M364.00,208.23 L355.60,208.23 M56.40,190.50 L60.95,190.50 M364.00,190.50 L359.45,190.50 M56.40,172.77 L64.80,172.77 M364.00,172.77 L355.60,172.77 M56.40,155.03 L60.95,155.03 M364.00,155.03 L359.45,155.03 M56.40,137.30 L64.80,137.30 M364.00,137.30 L355.60,137.30 M56.40,119.57 L60.95,119.57 M364.00,119.57 L359.45,119.57 M56.40,101.83 L64.80,101.83 M364.00,101.83 L355.60,101.83 M56.40,84.10 L60.95,84.10 M364.00,84.10 L359.45,84.10 M56.40,66.37 L64.80,66.37 M364.00,66.37 L355.60,66.37 M56.40,48.63 L60.95,48.63 M364.00,48.63 L359.45,48.63 M56.40,30.90 L64.80,30.90 M364.00,30.90 L355.60,30.90" stroke="#000" stroke-width="1.75" fill="none"/>
<rect x="56.40" y="30.90" width="307.60" height="212.80" fill="none" stroke="#000" stroke-width="1.80"/>
<text x="58.30" y="261.20" font-family="'Liberation Serif', 'Times New Roman', Times, serif" font-size="16.00px" font-weight="normal" text-anchor="middle">0</text>
<text x="92.48" y="261.20" font-family="'Liberation Serif', 'Times New Roman', Times, serif" font-size="16.00px" font-weight="normal" text-anchor="middle">10</text>
<text x="126.66" y="261.20" font-family="'Liberation Serif', 'Times New Roman', Times, serif" font-size="16.00px" font-weight="normal" text-anchor="middle">20</text>
<text x="160.83" y="261.20" font-family="'Liberation Serif', 'Times New Roman', Times, serif" font-size="16.00px" font-weight="normal" text-anchor="middle">30</text>
<text x="195.01" y="261.20" font-family="'Liberation Serif', 'Times New Roman', Times, serif" font-size="16.00px" font-weight="normal" text-anchor="middle">40</text>
<text x="229.19" y="261.20" font-family="'Liberation Serif', 'Times New Roman', Times, serif" font-size="16.00px" font-weight="normal" text-anchor="middle">50</text>
<text x="263.37" y="261.20" font-family="'Liberation Serif', 'Times New Roman', Times, serif" font-size="16.00px" font-weight="normal" text-anchor="middle">60</text>
<text x="297.54" y="261.20" font-family="'Liberation Serif', 'Times New Roman', Times, serif" font-size="16.00px" font-weight="normal" text-anchor="middle">70</text>
<text x="331.72" y="261.20" font-family="'Liberation Serif', 'Times New Roman', Times, serif" font-size="16.00px" font-weight="normal" text-anchor="middle">80</text>
<text x="365.90" y="261.20" font-family="'Liberation Serif', 'Times New Roman', Times, serif" font-size="16.00px" font-weight="normal" text-anchor="middle">90</text>
<text x="49.80" y="249.90" font-family="'Liberation Serif', 'Times New Roman', Times, serif" font-size="16.00px" font-weight="normal" text-anchor="end">0</text>
<text x="49.80" y="214.43" font-family="'Liberation Serif', 'Times New Roman', Times, serif" font-size="16.00px" font-weight="normal" text-anchor="end">5</text>
<text x="49.80" y="178.97" font-family="'Liberation Serif', 'Times New Roman', Times, serif" font-size="16.00px" font-weight="normal" text-anchor="end">10</text>
<text x="49.80" y="143.50" font-family="'Liberation Serif', 'Times New Roman', Times, serif" font-size="16.00px" font-weight="normal" text-anchor="end">15</text>
<text x="49.80" y="108.03" font-family="'Liberation Serif', 'Times New Roman', Times, serif" font-size="16.00px" font-weight="normal" text-anchor="end">20</text>
<text x="49.80" y="72.57" font-family="'Liberation Serif', 'Times New Roman', Times, serif" font-size="16.00px" font-weight="normal" text-anchor="end">25</text>
<text x="49.80" y="37.10" font-family="'Liberation Serif', 'Times New Roman', Times, serif" font-size="16.00px" font-weight="normal" text-anchor="end">30</text>
<text x="209.80" y="278.40" font-family="'Liberation Serif', 'Times New Roman', Times, serif" font-size="15.50px" font-weight="normal" text-anchor="middle" textLength="142.30" lengthAdjust="spacingAndGlyphs">Descriptor dimension</text>
<text transform="translate(23.80,137.60) rotate(-90)" font-family="'Liberation Serif', 'Times New Roman', Times, serif" font-size="15.5px" text-anchor="middle" textLength="194.2" lengthAdjust="spacingAndGlyphs">RMSE wrt. DFT (meV/atom)</text>
<rect x="565.78" y="30.90" width="103.23" height="212.80" fill="#e5e5e5"/>
<clipPath id="clip1"><rect x="430.00" y="30.90" width="307.30" height="212.80"/></clipPath>
<g clip-path="url(#clip1)">
<path d="M430.00,222.42 L737.30,222.42" stroke="#000" stroke-width="1.5" stroke-dasharray="3.6 1.55" stroke-dashoffset="0.6" fill="none"/>
<path d="M430.00,202.29 L430.35,202.70 L431.21,203.11 L432.06,203.51 L432.91,203.91 L433.77,204.30 L434.62,204.69 L435.48,205.07 L436.33,205.44 L437.18,205.81 L438.04,206.18 L438.89,206.54 L439.74,206.90 L440.60,207.25 L441.45,207.59 L442.30,207.93 L443.16,208.27 L444.01,208.60 L444.87,208.93 L445.72,209.25 L446.57,209.57 L447.43,209.89 L448.28,210.20 L449.13,210.50 L449.99,210.81 L450.84,211.10 L451.69,211.40 L452.55,211.69 L453.40,211.97 L454.25,212.25 L455.11,212.53 L455.96,212.80 L456.82,213.07 L457.67,213.34 L458.52,213.60 L459.38,213.86 L460.23,214.12 L461.08,214.37 L461.94,214.62 L462.79,214.86 L463.64,215.11 L464.50,215.34 L465.35,215.58 L466.21,215.81 L467.06,216.04 L467.91,216.27 L468.77,216.49 L469.62,216.71 L470.47,216.93 L471.33,217.14 L472.18,217.35 L473.03,217.56 L473.89,217.76 L474.74,217.96 L475.59,218.16 L476.45,218.36 L477.30,218.55 L478.16,218.74 L479.01,218.93 L479.86,219.12 L480.72,219.30 L481.57,219.48 L482.42,219.66 L483.28,219.84 L484.13,220.01 L484.98,220.18 L485.84,220.35 L486.69,220.52 L487.55,220.68 L488.40,220.84 L489.25,221.00 L490.11,221.16 L490.96,221.32 L491.81,221.47 L492.67,221.62 L493.52,221.77 L494.37,221.91 L495.23,222.06 L496.08,222.20 L496.94,222.34 L497.79,222.48 L498.64,222.62 L499.50,222.75 L500.35,222.89 L501.20,223.02 L502.06,223.15 L502.91,223.27 L503.76,223.40 L504.62,223.52 L505.47,223.65 L506.32,223.77 L507.18,223.89 L508.03,224.00 L508.89,224.12 L509.74,224.23 L510.59,224.35 L511.45,224.46 L512.30,224.57 L513.15,224.67 L514.01,224.78 L514.86,224.88 L515.71,224.99 L516.57,225.09 L517.42,225.19 L518.28,225.29 L519.13,225.39 L519.98,225.48 L520.84,225.58 L521.69,225.67 L522.54,225.76 L523.40,225.85 L524.25,225.94 L525.10,226.03 L525.96,226.12 L526.81,226.21 L527.67,226.29 L528.52,226.37 L529.37,226.46 L530.23,226.54 L531.08,226.62 L531.93,226.70 L532.79,226.77 L533.64,226.85 L534.49,226.93 L535.35,227.00 L536.20,227.08 L537.05,227.15 L537.91,227.22 L538.76,227.29 L539.62,227.36 L540.47,227.43 L541.32,227.49 L542.18,227.56 L543.03,227.63 L543.88,227.69 L544.74,227.75 L545.59,227.82 L546.44,227.88 L547.30,227.94 L548.15,228.00 L549.01,228.06 L549.86,228.12 L550.71,228.18 L551.57,228.23 L552.42,228.29 L553.27,228.34 L554.13,228.40 L554.98,228.45 L555.83,228.50 L556.69,228.56 L557.54,228.61 L558.40,228.66 L559.25,228.71 L560.10,228.76 L560.96,228.80 L561.81,228.85 L562.66,228.90 L563.52,228.94 L564.37,228.99 L565.22,229.04 L566.08,229.08 L566.93,229.12 L567.78,229.17 L568.64,229.21 L569.49,229.25 L570.35,229.29 L571.20,229.33 L572.05,229.37 L572.91,229.41 L573.76,229.45 L574.61,229.49 L575.47,229.52 L576.32,229.56 L577.17,229.60 L578.03,229.63 L578.88,229.67 L579.74,229.70 L580.59,229.74 L581.44,229.77 L582.30,229.81 L583.15,229.84 L584.00,229.87 L584.86,229.90 L585.71,229.93 L586.56,229.96 L587.42,229.99 L588.27,230.02 L589.13,230.05 L589.98,230.08 L590.83,230.11 L591.69,230.14 L592.54,230.17 L593.39,230.19 L594.25,230.22 L595.10,230.25 L595.95,230.27 L596.81,230.30 L597.66,230.32 L598.51,230.35 L599.37,230.37 L600.22,230.40 L601.08,230.42 L601.93,230.45 L602.78,230.47 L603.64,230.49 L604.49,230.51 L605.34,230.53 L606.20,230.56 L607.05,230.58 L607.90,230.60 L608.76,230.62 L609.61,230.64 L610.47,230.66 L611.32,230.68 L612.17,230.70 L613.03,230.72 L613.88,230.74 L614.73,230.75 L615.59,230.77 L616.44,230.79 L617.29,230.81 L618.15,230.82 L619.00,230.84 L619.86,230.86 L620.71,230.87 L621.56,230.89 L622.42,230.91 L623.27,230.92 L624.12,230.94 L624.98,230.95 L625.83,230.97 L626.68,230.98 L627.54,230.99 L628.39,231.01 L629.24,231.02 L630.10,231.04 L630.95,231.05 L631.81,231.06 L632.66,231.07 L633.51,231.09 L634.37,231.10 L635.22,231.11 L636.07,231.12 L636.93,231.14 L637.78,231.15 L638.63,231.16 L639.49,231.17 L640.34,231.18 L641.20,231.19 L642.05,231.20 L642.90,231.21 L643.76,231.22 L644.61,231.23 L645.46,231.24 L646.32,231.25 L647.17,231.26 L648.02,231.27 L648.88,231.28 L649.73,231.29 L650.59,231.30 L651.44,231.31 L652.29,231.31 L653.15,231.32 L654.00,231.33 L654.85,231.34 L655.71,231.35 L656.56,231.35 L657.41,231.36 L658.27,231.37 L659.12,231.37 L659.97,231.38 L660.83,231.39 L661.68,231.39 L662.54,231.40 L663.39,231.41 L664.24,231.41 L665.10,231.42 L665.95,231.43 L666.80,231.43 L667.66,231.44 L668.51,231.44 L669.36,231.45 L670.22,231.45 L671.07,231.46 L671.93,231.46 L672.78,231.47 L673.63,231.47 L674.49,231.48 L675.34,231.48 L676.19,231.49 L677.05,231.49 L677.90,231.50 L678.75,231.50 L679.61,231.51 L680.46,231.51 L681.32,231.51 L682.17,231.52 L683.02,231.52 L683.88,231.52 L684.73,231.53 L685.58,231.53 L686.44,231.53 L687.29,231.54 L688.14,231.54 L689.00,231.54 L689.85,231.55 L690.70,231.55 L691.56,231.55 L692.41,231.55 L693.27,231.56 L694.12,231.56 L694.97,231.56 L695.83,231.56 L696.68,231.57 L697.53,231.57 L698.39,231.57 L699.24,231.57 L700.09,231.57 L700.95,231.58 L701.80,231.58 L702.66,231.58 L703.51,231.58 L704.36,231.58 L705.22,231.58 L706.07,231.58 L706.92,231.59 L707.78,231.59 L708.63,231.59 L709.48,231.59 L710.34,231.59 L711.19,231.59 L712.05,231.59 L712.90,231.59 L713.75,231.59 L714.61,231.59 L715.46,231.60 L716.31,231.60 L717.17,231.60 L718.02,231.60 L718.87,231.60 L719.73,231.60 L720.58,231.60 L721.43,231.60 L722.29,231.60 L723.14,231.60 L724.00,231.60 L724.85,231.60 L725.70,231.60 L726.56,231.60 L727.41,231.60 L728.26,231.60 L729.12,231.60 L729.97,231.60 L730.82,231.60 L731.68,231.60 L732.53,231.60 L733.39,231.60 L734.24,231.60 L735.09,231.60 L735.95,231.59 L737.30,231.59" stroke="#228b22" stroke-width="1.4" fill="none" stroke-linejoin="round"/>
<path d="M456.82,206.39 L456.82,212.77 M452.42,206.39 L461.22,206.39 M452.42,212.77 L461.22,212.77" stroke="#228b22" stroke-width="1.40" fill="none"/>
<path d="M456.82,204.68 L461.72,209.58 L456.82,214.48 L451.92,209.58Z" fill="#228b22"/>
<path d="M470.47,216.60 L470.47,218.31 M466.07,216.60 L474.87,216.60 M466.07,218.31 L474.87,218.31" stroke="#228b22" stroke-width="1.40" fill="none"/>
<path d="M470.47,212.55 L475.37,217.45 L470.47,222.35 L465.57,217.45Z" fill="#228b22"/>
<path d="M497.79,222.21 L497.79,223.63 M493.39,222.21 L502.19,222.21 M493.39,223.63 L502.19,223.63" stroke="#228b22" stroke-width="1.40" fill="none"/>
<path d="M497.79,218.02 L502.69,222.92 L497.79,227.82 L492.89,222.92Z" fill="#228b22"/>
<path d="M525.10,225.40 L525.10,226.82 M520.70,225.40 L529.50,225.40 M520.70,226.82 L529.50,226.82" stroke="#228b22" stroke-width="1.40" fill="none"/>
<path d="M525.10,221.21 L530.00,226.11 L525.10,231.01 L520.20,226.11Z" fill="#228b22"/>
<path d="M552.42,227.46 L552.42,228.87 M548.02,227.46 L556.82,227.46 M548.02,228.87 L556.82,228.87" stroke="#228b22" stroke-width="1.40" fill="none"/>
<path d="M552.42,223.27 L557.32,228.17 L552.42,233.07 L547.52,228.17Z" fill="#228b22"/>
<path d="M579.74,228.95 L579.74,230.36 M575.34,228.95 L584.14,228.95 M575.34,230.36 L584.14,230.36" stroke="#228b22" stroke-width="1.40" fill="none"/>
<path d="M579.74,224.76 L584.64,229.66 L579.74,234.56 L574.84,229.66Z" fill="#228b22"/>
<path d="M607.05,230.01 L607.05,231.43 M602.65,230.01 L611.45,230.01 M602.65,231.43 L611.45,231.43" stroke="#228b22" stroke-width="1.40" fill="none"/>
<path d="M607.05,225.82 L611.95,230.72 L607.05,235.62 L602.15,230.72Z" fill="#228b22"/>
<path d="M634.37,230.44 L634.37,231.85 M629.97,230.44 L638.77,230.44 M629.97,231.85 L638.77,231.85" stroke="#228b22" stroke-width="1.40" fill="none"/>
<path d="M634.37,226.24 L639.27,231.14 L634.37,236.04 L629.47,231.14Z" fill="#228b22"/>
<path d="M661.68,230.01 L661.68,231.43 M657.28,230.01 L666.08,230.01 M657.28,231.43 L666.08,231.43" stroke="#228b22" stroke-width="1.40" fill="none"/>
<path d="M661.68,225.82 L666.58,230.72 L661.68,235.62 L656.78,230.72Z" fill="#228b22"/>
<path d="M430.00,90.48 L430.35,93.99 L431.21,97.16 L432.06,100.06 L432.91,102.74 L433.77,105.25 L434.62,107.61 L435.48,109.85 L436.33,111.98 L437.18,114.03 L438.04,116.01 L438.89,117.92 L439.74,119.78 L440.60,121.58 L441.45,123.34 L442.30,125.05 L443.16,126.72 L444.01,128.36 L444.87,129.96 L445.72,131.53 L446.57,133.07 L447.43,134.57 L448.28,136.05 L449.13,137.50 L449.99,138.92 L450.84,140.31 L451.69,141.68 L452.55,143.02 L453.40,144.33 L454.25,145.62 L455.11,146.89 L455.96,148.14 L456.82,149.36 L457.67,150.56 L458.52,151.73 L459.38,152.89 L460.23,154.02 L461.08,155.13 L461.94,156.22 L462.79,157.30 L463.64,158.35 L464.50,159.38 L465.35,160.40 L466.21,161.39 L467.06,162.37 L467.91,163.33 L468.77,164.27 L469.62,165.19 L470.47,166.10 L471.33,166.99 L472.18,167.86 L473.03,168.72 L473.89,169.56 L474.74,170.39 L475.59,171.20 L476.45,172.00 L477.30,172.78 L478.16,173.54 L479.01,174.30 L479.86,175.04 L480.72,175.76 L481.57,176.47 L482.42,177.17 L483.28,177.86 L484.13,178.53 L484.98,179.20 L485.84,179.84 L486.69,180.48 L487.55,181.11 L488.40,181.72 L489.25,182.32 L490.11,182.91 L490.96,183.49 L491.81,184.06 L492.67,184.62 L493.52,185.17 L494.37,185.71 L495.23,186.24 L496.08,186.76 L496.94,187.27 L497.79,187.77 L498.64,188.26 L499.50,188.74 L500.35,189.22 L501.20,189.68 L502.06,190.14 L502.91,190.58 L503.76,191.02 L504.62,191.45 L505.47,191.88 L506.32,192.29 L507.18,192.70 L508.03,193.10 L508.89,193.49 L509.74,193.88 L510.59,194.25 L511.45,194.63 L512.30,194.99 L513.15,195.35 L514.01,195.70 L514.86,196.04 L515.71,196.38 L516.57,196.71 L517.42,197.04 L518.28,197.36 L519.13,197.67 L519.98,197.98 L520.84,198.28 L521.69,198.58 L522.54,198.87 L523.40,199.16 L524.25,199.44 L525.10,199.71 L525.96,199.98 L526.81,200.25 L527.67,200.51 L528.52,200.76 L529.37,201.01 L530.23,201.26 L531.08,201.50 L531.93,201.74 L532.79,201.97 L533.64,202.20 L534.49,202.42 L535.35,202.64 L536.20,202.86 L537.05,203.07 L537.91,203.28 L538.76,203.48 L539.62,203.68 L540.47,203.88 L541.32,204.07 L542.18,204.26 L543.03,204.45 L543.88,204.63 L544.74,204.81 L545.59,204.98 L546.44,205.15 L547.30,205.32 L548.15,205.49 L549.01,205.65 L549.86,205.81 L550.71,205.97 L551.57,206.12 L552.42,206.27 L553.27,206.42 L554.13,206.57 L554.98,206.71 L555.83,206.85 L556.69,206.99 L557.54,207.12 L558.40,207.25 L559.25,207.38 L560.10,207.51 L560.96,207.64 L561.81,207.76 L562.66,207.88 L563.52,208.00 L564.37,208.11 L565.22,208.23 L566.08,208.34 L566.93,208.45 L567.78,208.55 L568.64,208.66 L569.49,208.76 L570.35,208.86 L571.20,208.96 L572.05,209.06 L572.91,209.16 L573.76,209.25 L574.61,209.34 L575.47,209.43 L576.32,209.52 L577.17,209.61 L578.03,209.69 L578.88,209.78 L579.74,209.86 L580.59,209.94 L581.44,210.02 L582.30,210.10 L583.15,210.17 L584.00,210.25 L584.86,210.32 L585.71,210.39 L586.56,210.46 L587.42,210.53 L588.27,210.60 L589.13,210.67 L589.98,210.73 L590.83,210.80 L591.69,210.86 L592.54,210.92 L593.39,210.98 L594.25,211.04 L595.10,211.10 L595.95,211.15 L596.81,211.21 L597.66,211.27 L598.51,211.32 L599.37,211.37 L600.22,211.42 L601.08,211.47 L601.93,211.52 L602.78,211.57 L603.64,211.62 L604.49,211.67 L605.34,211.71 L606.20,211.76 L607.05,211.80 L607.90,211.84 L608.76,211.89 L609.61,211.93 L610.47,211.97 L611.32,212.01 L612.17,212.05 L613.03,212.09 L613.88,212.12 L614.73,212.16 L615.59,212.20 L616.44,212.23 L617.29,212.27 L618.15,212.30 L619.00,212.34 L619.86,212.37 L620.71,212.40 L621.56,212.43 L622.42,212.46 L623.27,212.49 L624.12,212.52 L624.98,212.55 L625.83,212.58 L626.68,212.61 L627.54,212.63 L628.39,212.66 L629.24,212.69 L630.10,212.71 L630.95,212.74 L631.81,212.76 L632.66,212.79 L633.51,212.81 L634.37,212.83 L635.22,212.86 L636.07,212.88 L636.93,212.90 L637.78,212.92 L638.63,212.94 L639.49,212.96 L640.34,212.98 L641.20,213.00 L642.05,213.02 L642.90,213.04 L643.76,213.06 L644.61,213.08 L645.46,213.09 L646.32,213.11 L647.17,213.13 L648.02,213.14 L648.88,213.16 L649.73,213.18 L650.59,213.19 L651.44,213.21 L652.29,213.22 L653.15,213.24 L654.00,213.25 L654.85,213.26 L655.71,213.28 L656.56,213.29 L657.41,213.30 L658.27,213.32 L659.12,213.33 L659.97,213.34 L660.83,213.35 L661.68,213.36 L662.54,213.37 L663.39,213.38 L664.24,213.40 L665.10,213.41 L665.95,213.42 L666.80,213.43 L667.66,213.44 L668.51,213.45 L669.36,213.45 L670.22,213.46 L671.07,213.47 L671.93,213.48 L672.78,213.49 L673.63,213.50 L674.49,213.51 L675.34,213.51 L676.19,213.52 L677.05,213.53 L677.90,213.54 L678.75,213.54 L679.61,213.55 L680.46,213.56 L681.32,213.56 L682.17,213.57 L683.02,213.58 L683.88,213.58 L684.73,213.59 L685.58,213.59 L686.44,213.60 L687.29,213.60 L688.14,213.61 L689.00,213.61 L689.85,213.62 L690.70,213.62 L691.56,213.63 L692.41,213.63 L693.27,213.64 L694.12,213.64 L694.97,213.64 L695.83,213.65 L696.68,213.65 L697.53,213.66 L698.39,213.66 L699.24,213.66 L700.09,213.67 L700.95,213.67 L701.80,213.67 L702.66,213.68 L703.51,213.68 L704.36,213.68 L705.22,213.68 L706.07,213.69 L706.92,213.69 L707.78,213.69 L708.63,213.69 L709.48,213.70 L710.34,213.70 L711.19,213.70 L712.05,213.70 L712.90,213.70 L713.75,213.71 L714.61,213.71 L715.46,213.71 L716.31,213.71 L717.17,213.71 L718.02,213.71 L718.87,213.71 L719.73,213.72 L720.58,213.72 L721.43,213.72 L722.29,213.72 L723.14,213.72 L724.00,213.72 L724.85,213.72 L725.70,213.72 L726.56,213.72 L727.41,213.72 L728.26,213.72 L729.12,213.72 L729.97,213.72 L730.82,213.72 L731.68,213.72 L732.53,213.73 L733.39,213.73 L734.24,213.73 L735.09,213.73 L735.95,213.73 L737.30,213.73" stroke="#0000ff" stroke-width="1.4" fill="none" stroke-linejoin="round"/>
<path d="M456.82,141.63 L456.82,148.72 M452.42,141.63 L461.22,141.63 M452.42,148.72 L461.22,148.72" stroke="#0000ff" stroke-width="1.40" fill="none"/>
<path d="M453.22,141.57 L460.42,148.77 M453.22,148.77 L460.42,141.57 M453.22,145.17 L460.42,145.17 M456.82,141.57 L456.82,148.77" stroke="#0000ff" stroke-width="1.40" fill="none"/>
<path d="M470.47,170.14 L470.47,177.24 M466.07,170.14 L474.87,170.14 M466.07,177.24 L474.87,177.24" stroke="#0000ff" stroke-width="1.40" fill="none"/>
<path d="M466.87,170.09 L474.07,177.29 M466.87,177.29 L474.07,170.09 M466.87,173.69 L474.07,173.69 M470.47,170.09 L470.47,177.29" stroke="#0000ff" stroke-width="1.40" fill="none"/>
<path d="M497.79,183.12 L497.79,190.22 M493.39,183.12 L502.19,183.12 M493.39,190.22 L502.19,190.22" stroke="#0000ff" stroke-width="1.40" fill="none"/>
<path d="M494.19,183.07 L501.39,190.27 M494.19,190.27 L501.39,183.07 M494.19,186.67 L501.39,186.67 M497.79,183.07 L497.79,190.27" stroke="#0000ff" stroke-width="1.40" fill="none"/>
<path d="M525.10,193.55 L525.10,200.64 M520.70,193.55 L529.50,193.55 M520.70,200.64 L529.50,200.64" stroke="#0000ff" stroke-width="1.40" fill="none"/>
<path d="M521.50,193.50 L528.70,200.70 M521.50,200.70 L528.70,193.50 M521.50,197.10 L528.70,197.10 M525.10,193.50 L525.10,200.70" stroke="#0000ff" stroke-width="1.40" fill="none"/>
<path d="M552.42,203.34 L552.42,210.43 M548.02,203.34 L556.82,203.34 M548.02,210.43 L556.82,210.43" stroke="#0000ff" stroke-width="1.40" fill="none"/>
<path d="M548.82,203.29 L556.02,210.49 M548.82,210.49 L556.02,203.29 M548.82,206.89 L556.02,206.89 M552.42,203.29 L552.42,210.49" stroke="#0000ff" stroke-width="1.40" fill="none"/>
<path d="M579.74,208.02 L579.74,215.11 M575.34,208.02 L584.14,208.02 M575.34,215.11 L584.14,215.11" stroke="#0000ff" stroke-width="1.40" fill="none"/>
<path d="M576.14,207.97 L583.34,215.17 M576.14,215.17 L583.34,207.97 M576.14,211.57 L583.34,211.57 M579.74,207.97 L579.74,215.17" stroke="#0000ff" stroke-width="1.40" fill="none"/>
<path d="M607.05,207.59 L607.05,214.69 M602.65,207.59 L611.45,207.59 M602.65,214.69 L611.45,214.69" stroke="#0000ff" stroke-width="1.40" fill="none"/>
<path d="M603.45,207.54 L610.65,214.74 M603.45,214.74 L610.65,207.54 M603.45,211.14 L610.65,211.14 M607.05,207.54 L607.05,214.74" stroke="#0000ff" stroke-width="1.40" fill="none"/>
<path d="M634.37,210.57 L634.37,217.67 M629.97,210.57 L638.77,210.57 M629.97,217.67 L638.77,217.67" stroke="#0000ff" stroke-width="1.40" fill="none"/>
<path d="M630.77,210.52 L637.97,217.72 M630.77,217.72 L637.97,210.52 M630.77,214.12 L637.97,214.12 M634.37,210.52 L634.37,217.72" stroke="#0000ff" stroke-width="1.40" fill="none"/>
<path d="M661.68,209.16 L661.68,216.25 M657.28,209.16 L666.08,209.16 M657.28,216.25 L666.08,216.25" stroke="#0000ff" stroke-width="1.40" fill="none"/>
<path d="M658.08,209.10 L665.28,216.30 M658.08,216.30 L665.28,209.10 M658.08,212.70 L665.28,212.70 M661.68,209.10 L661.68,216.30" stroke="#0000ff" stroke-width="1.40" fill="none"/>
</g>
<path d="M430.00,243.70 L430.00,234.80 M430.00,30.90 L430.00,39.80 M446.57,243.70 L446.57,238.95 M446.57,30.90 L446.57,35.65 M463.64,243.70 L463.64,234.80 M463.64,30.90 L463.64,39.80 M480.72,243.70 L480.72,238.95 M480.72,30.90 L480.72,35.65 M497.79,243.70 L497.79,234.80 M497.79,30.90 L497.79,39.80 M514.86,243.70 L514.86,238.95 M514.86,30.90 L514.86,35.65 M531.93,243.70 L531.93,234.80 M531.93,30.90 L531.93,39.80 M549.01,243.70 L549.01,238.95 M549.01,30.90 L549.01,35.65 M566.08,243.70 L566.08,234.80 M566.08,30.90 L566.08,39.80 M583.15,243.70 L583.15,238.95 M583.15,30.90 L583.15,35.65 M600.22,243.70 L600.22,234.80 M600.22,30.90 L600.22,39.80 M617.29,243.70 L617.29,238.95 M617.29,30.90 L617.29,35.65 M634.37,243.70 L634.37,234.80 M634.37,30.90 L634.37,39.80 M651.44,243.70 L651.44,238.95 M651.44,30.90 L651.44,35.65 M668.51,243.70 L668.51,234.80 M668.51,30.90 L668.51,39.80 M685.58,243.70 L685.58,238.95 M685.58,30.90 L685.58,35.65 M702.66,243.70 L702.66,234.80 M702.66,30.90 L702.66,39.80 M719.73,243.70 L719.73,238.95 M719.73,30.90 L719.73,35.65 M737.30,243.70 L737.30,234.80 M737.30,30.90 L737.30,39.80 M430.00,243.70 L438.40,243.70 M737.30,243.70 L728.90,243.70 M430.00,225.97 L434.55,225.97 M737.30,225.97 L732.75,225.97 M430.00,208.23 L438.40,208.23 M737.30,208.23 L728.90,208.23 M430.00,190.50 L434.55,190.50 M737.30,190.50 L732.75,190.50 M430.00,172.77 L438.40,172.77 M737.30,172.77 L728.90,172.77 M430.00,155.03 L434.55,155.03 M737.30,155.03 L732.75,155.03 M430.00,137.30 L438.40,137.30 M737.30,137.30 L728.90,137.30 M430.00,119.57 L434.55,119.57 M737.30,119.57 L732.75,119.57 M430.00,101.83 L438.40,101.83 M737.30,101.83 L728.90,101.83 M430.00,84.10 L434.55,84.10 M737.30,84.10 L732.75,84.10 M430.00,66.37 L438.40,66.37 M737.30,66.37 L728.90,66.37 M430.00,48.63 L434.55,48.63 M737.30,48.63 L732.75,48.63 M430.00,30.90 L438.40,30.90 M737.30,30.90 L728.90,30.90" stroke="#000" stroke-width="1.75" fill="none"/>
<rect x="430.00" y="30.90" width="307.30" height="212.80" fill="none" stroke="#000" stroke-width="1.80"/>
<text x="431.90" y="261.20" font-family="'Liberation Serif', 'Times New Roman', Times, serif" font-size="16.00px" font-weight="normal" text-anchor="middle">0</text>
<text x="466.04" y="261.20" font-family="'Liberation Serif', 'Times New Roman', Times, serif" font-size="16.00px" font-weight="normal" text-anchor="middle">10</text>
<text x="500.19" y="261.20" font-family="'Liberation Serif', 'Times New Roman', Times, serif" font-size="16.00px" font-weight="normal" text-anchor="middle">20</text>
<text x="534.33" y="261.20" font-family="'Liberation Serif', 'Times New Roman', Times, serif" font-size="16.00px" font-weight="normal" text-anchor="middle">30</text>
<text x="568.48" y="261.20" font-family="'Liberation Serif', 'Times New Roman', Times, serif" font-size="16.00px" font-weight="normal" text-anchor="middle">40</text>
<text x="602.62" y="261.20" font-family="'Liberation Serif', 'Times New Roman', Times, serif" font-size="16.00px" font-weight="normal" text-anchor="middle">50</text>
<text x="636.77" y="261.20" font-family="'Liberation Serif', 'Times New Roman', Times, serif" font-size="16.00px" font-weight="normal" text-anchor="middle">60</text>
<text x="670.91" y="261.20" font-family="'Liberation Serif', 'Times New Roman', Times, serif" font-size="16.00px" font-weight="normal" text-anchor="middle">70</text>
<text x="705.06" y="261.20" font-family="'Liberation Serif', 'Times New Roman', Times, serif" font-size="16.00px" font-weight="normal" text-anchor="middle">80</text>
<text x="739.20" y="261.20" font-family="'Liberation Serif', 'Times New Roman', Times, serif" font-size="16.00px" font-weight="normal" text-anchor="middle">90</text>
<text x="423.40" y="249.90" font-family="'Liberation Serif', 'Times New Roman', Times, serif" font-size="16.00px" font-weight="normal" text-anchor="end">0</text>
<text x="423.40" y="214.43" font-family="'Liberation Serif', 'Times New Roman', Times, serif" font-size="16.00px" font-weight="normal" text-anchor="end">5</text>
<text x="423.40" y="178.97" font-family="'Liberation Serif', 'Times New Roman', Times, serif" font-size="16.00px" font-weight="normal" text-anchor="end">10</text>
<text x="423.40" y="143.50" font-family="'Liberation Serif', 'Times New Roman', Times, serif" font-size="16.00px" font-weight="normal" text-anchor="end">15</text>
<text x="423.40" y="108.03" font-family="'Liberation Serif', 'Times New Roman', Times, serif" font-size="16.00px" font-weight="normal" text-anchor="end">20</text>
<text x="423.40" y="72.57" font-family="'Liberation Serif', 'Times New Roman', Times, serif" font-size="16.00px" font-weight="normal" text-anchor="end">25</text>
<text x="423.40" y="37.10" font-family="'Liberation Serif', 'Times New Roman', Times, serif" font-size="16.00px" font-weight="normal" text-anchor="end">30</text>
<text x="583.25" y="278.40" font-family="'Liberation Serif', 'Times New Roman', Times, serif" font-size="15.50px" font-weight="normal" text-anchor="middle" textLength="142.30" lengthAdjust="spacingAndGlyphs">Descriptor dimension</text>
<text transform="translate(395.20,137.60) rotate(-90)" font-family="'Liberation Serif', 'Times New Roman', Times, serif" font-size="15.5px" text-anchor="middle" textLength="194.2" lengthAdjust="spacingAndGlyphs">RMSE wrt. DFT (meV/atom)</text>
<text x="74.80" y="219.60" font-family="'Liberation Serif', 'Times New Roman', Times, serif" font-size="15.50px" font-weight="normal" text-anchor="start" textLength="41.00" lengthAdjust="spacingAndGlyphs">3 meV</text>
<text x="436.90" y="234.60" font-family="'Liberation Serif', 'Times New Roman', Times, serif" font-size="15.50px" font-weight="normal" text-anchor="start" textLength="41.00" lengthAdjust="spacingAndGlyphs">3 meV</text>
<text x="0.60" y="32.10" font-family="'Liberation Sans', Arial, Helvetica, sans-serif" font-size="15.50px" font-weight="bold" text-anchor="start">(a)</text>
<text x="372.60" y="32.30" font-family="'Liberation Sans', Arial, Helvetica, sans-serif" font-size="15.50px" font-weight="bold" text-anchor="start">(b)</text>
<text x="373.10" y="13.40" font-family="'Liberation Serif', 'Times New Roman', Times, serif" font-size="15.50px" font-weight="bold" text-anchor="middle" textLength="356.80" lengthAdjust="spacingAndGlyphs">3000 Training Iterations for all Numbers of Species</text>
<rect x="196.60" y="45.40" width="96.00" height="84.20" fill="#ffffff" stroke="#000" stroke-width="1"/>
<text x="261.00" y="60.90" font-family="'Liberation Serif', 'Times New Roman', Times, serif" font-size="15.00px" font-weight="normal" text-anchor="end" textLength="51.30" lengthAdjust="spacingAndGlyphs">3 species</text>
<path d="M269.00,55.80 L285.20,55.80 M269.00,51.80 L269.00,59.80 M285.20,51.80 L285.20,59.80" stroke="#000000" stroke-width="1.40" fill="none"/>
<circle cx="277.10" cy="55.80" r="3.6" fill="#000000"/>
<text x="261.00" y="82.10" font-family="'Liberation Serif', 'Times New Roman', Times, serif" font-size="15.00px" font-weight="normal" text-anchor="end" textLength="51.30" lengthAdjust="spacingAndGlyphs">4 species</text>
<path d="M269.00,77.00 L285.20,77.00 M269.00,73.00 L269.00,81.00 M285.20,73.00 L285.20,81.00" stroke="#ff0000" stroke-width="1.40" fill="none"/>
<rect x="273.40" y="73.40" width="7.4" height="7.2" fill="#ff0000"/>
<text x="261.00" y="103.30" font-family="'Liberation Serif', 'Times New Roman', Times, serif" font-size="15.00px" font-weight="normal" text-anchor="end" textLength="51.30" lengthAdjust="spacingAndGlyphs">5 species</text>
<path d="M269.00,98.20 L285.20,98.20 M269.00,94.20 L269.00,102.20 M285.20,94.20 L285.20,102.20" stroke="#228b22" stroke-width="1.40" fill="none"/>
<path d="M277.10,93.30 L282.00,98.20 L277.10,103.10 L272.20,98.20Z" fill="#228b22"/>
<text x="261.00" y="124.50" font-family="'Liberation Serif', 'Times New Roman', Times, serif" font-size="15.00px" font-weight="normal" text-anchor="end" textLength="58.30" lengthAdjust="spacingAndGlyphs">11 species</text>
<path d="M269.00,119.40 L285.20,119.40 M269.00,115.40 L269.00,123.40 M285.20,115.40 L285.20,123.40" stroke="#0000ff" stroke-width="1.40" fill="none"/>
<path d="M273.50,115.80 L280.70,123.00 M273.50,123.00 L280.70,115.80 M273.50,119.40 L280.70,119.40 M277.10,115.80 L277.10,123.00" stroke="#0000ff" stroke-width="1.40" fill="none"/>
<rect x="569.60" y="45.20" width="96.60" height="41.80" fill="#ffffff" stroke="#000" stroke-width="1"/>
<text x="634.60" y="60.70" font-family="'Liberation Serif', 'Times New Roman', Times, serif" font-size="15.00px" font-weight="normal" text-anchor="end" textLength="51.30" lengthAdjust="spacingAndGlyphs">5 species</text>
<path d="M642.60,55.60 L658.80,55.60 M642.60,51.60 L642.60,59.60 M658.80,51.60 L658.80,59.60" stroke="#228b22" stroke-width="1.40" fill="none"/>
<path d="M650.70,50.70 L655.60,55.60 L650.70,60.50 L645.80,55.60Z" fill="#228b22"/>
<text x="634.60" y="81.90" font-family="'Liberation Serif', 'Times New Roman', Times, serif" font-size="15.00px" font-weight="normal" text-anchor="end" textLength="58.30" lengthAdjust="spacingAndGlyphs">11 species</text>
<path d="M642.60,76.80 L658.80,76.80 M642.60,72.80 L642.60,80.80 M658.80,72.80 L658.80,80.80" stroke="#0000ff" stroke-width="1.40" fill="none"/>
<path d="M647.10,73.20 L654.30,80.40 M647.10,80.40 L654.30,73.20 M647.10,76.80 L654.30,76.80 M650.70,73.20 L650.70,80.40" stroke="#0000ff" stroke-width="1.40" fill="none"/>
</svg>
</body>
</html>
